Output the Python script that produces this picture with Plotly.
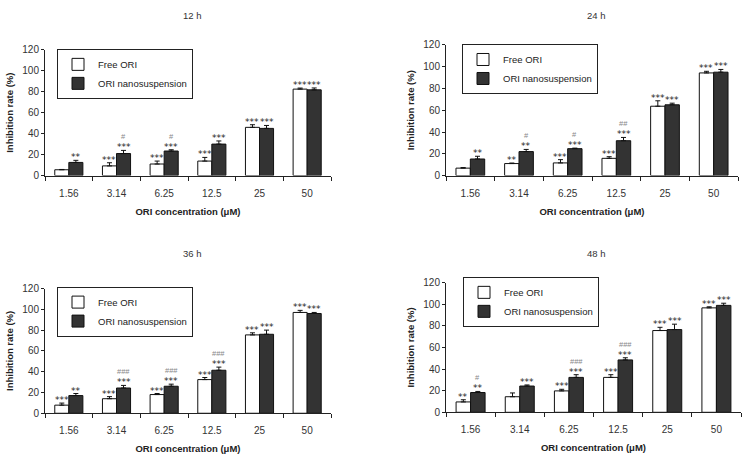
import plotly.graph_objects as go

categories = ["1.56", "3.14", "6.25", "12.5", "25", "50"]
panel_titles = ["12 h", "24 h", "36 h", "48 h"]
series_names = ["Free ORI", "ORI nanosuspension"]

free_12 = [5.5, 9.2, 11.0, 13.8, 46.0, 82.5]
free_12_err = [0.3, 3.0, 2.8, 3.5, 2.5, 1.0]
nano_12 = [12.5, 21.0, 23.4, 30.0, 45.0, 81.8]
nano_12_err = [2.0, 3.0, 1.2, 3.0, 2.8, 1.8]
free_12_sig = ["", "***", "***", "***", "***", "***"]
nano_12_sig = ["**", "***", "***", "***", "***", "***"]
nano_12_hash = ["", "#", "#", "", "", ""]

free_24 = [6.8, 11.0, 11.6, 15.8, 63.7, 94.3]
free_24_err = [0.5, 0.5, 3.0, 1.5, 5.0, 1.5]
nano_24 = [15.2, 22.0, 24.7, 32.0, 65.0, 95.0]
nano_24_err = [2.5, 2.0, 0.5, 3.0, 1.5, 2.5]
free_24_sig = ["", "**", "***", "***", "***", "***"]
nano_24_sig = ["**", "**", "***", "***", "***", "***"]
nano_24_hash = ["", "#", "#", "##", "", ""]

free_36 = [7.8, 14.0, 18.0, 32.4, 75.4, 97.0]
free_36_err = [2.0, 2.0, 1.0, 2.0, 2.0, 2.0]
nano_36 = [17.0, 24.3, 26.0, 41.4, 76.0, 96.0]
nano_36_err = [2.0, 2.5, 2.0, 3.0, 4.0, 1.0]
free_36_sig = ["***", "***", "***", "***", "***", "***"]
nano_36_sig = ["**", "***", "***", "***", "***", "***"]
nano_36_hash = ["", "###", "###", "###", "", ""]

free_48 = [9.6, 14.4, 19.8, 32.3, 75.7, 96.7]
free_48_err = [2.0, 3.5, 1.5, 2.5, 3.0, 1.0]
nano_48 = [18.3, 24.3, 32.3, 48.5, 76.6, 99.0]
nano_48_err = [1.0, 1.0, 2.5, 2.0, 5.0, 2.0]
free_48_sig = ["**", "", "***", "***", "***", "***"]
nano_48_sig = ["**", "***", "***", "***", "***", "***"]
nano_48_hash = ["#", "", "###", "###", "", ""]

y_ticks = [0, 20, 40, 60, 80, 100, 120]

panels = [
    (free_12, free_12_err, nano_12, nano_12_err, free_12_sig, nano_12_sig, nano_12_hash),
    (free_24, free_24_err, nano_24, nano_24_err, free_24_sig, nano_24_sig, nano_24_hash),
    (free_36, free_36_err, nano_36, nano_36_err, free_36_sig, nano_36_sig, nano_36_hash),
    (free_48, free_48_err, nano_48, nano_48_err, free_48_sig, nano_48_sig, nano_48_hash),
]

W, H = 750, 467
# plot-area pixel boxes: (left, right, top(120), bottom(0))
boxes = [(45, 331, 45, 174), (446, 738, 40, 174), (45, 331, 290, 418), (446, 741, 284, 417)]
legend_pos = [(57, 44), (462, 39), (57, 288), (463, 278)]
title_pos = [(192, 10), (596, 10), (192, 254), (596, 254)]

FONT = "Liberation Sans, Arial, sans-serif"
fig = go.Figure()
layout = {}
annotations = []
half = 0.295 / 2

for i, (fv, fe, nv, ne, fs, ns, nh) in enumerate(panels):
    k = "" if i == 0 else str(i + 1)
    xa, ya = "x" + k, "y" + k
    leg = "legend" + k
    fig.add_trace(go.Bar(
        x=categories, y=fv, name=series_names[0], xaxis=xa, yaxis=ya, legend=leg,
        marker=dict(color="white", line=dict(color="#111", width=1)),
        error_y=dict(type="data", array=fe, arrayminus=[0] * len(fe), symmetric=False,
                     color="#111", thickness=1, width=2.5),
    ))
    fig.add_trace(go.Bar(
        x=categories, y=nv, name=series_names[1], xaxis=xa, yaxis=ya, legend=leg,
        marker=dict(color="#333333", line=dict(color="#111", width=1)),
        error_y=dict(type="data", array=ne, arrayminus=[0] * len(ne), symmetric=False,
                     color="#111", thickness=1, width=2.5),
    ))
    l, r, t, b = boxes[i]
    layout["xaxis" + k] = dict(
        domain=[l / W, r / W], anchor=ya, type="category", range=[-0.5, 5.5],
        showline=True, linecolor="#222", linewidth=1, ticks="outside", ticklen=4,
        tickcolor="#222", tickson="boundaries", ticklabelstandoff=8,
        tickfont=dict(family=FONT, size=10, color="#333"),
        title=dict(text="<b>ORI concentration (μM)</b>", standoff=10,
                   font=dict(family=FONT, size=9.5, color="#222")),
        showgrid=False, zeroline=False, fixedrange=True,
    )
    layout["yaxis" + k] = dict(
        domain=[1 - b / H, 1 - t / H], anchor=xa, range=[0, 120], tickvals=y_ticks,
        showline=True, linecolor="#222", linewidth=1, ticks="outside", ticklen=3,
        tickcolor="#222", tickfont=dict(family=FONT, size=10, color="#333"),
        title=dict(text="<b>Inhibition rate (%)</b>", standoff=6,
                   font=dict(family=FONT, size=9.5, color="#222")),
        showgrid=False, zeroline=False, fixedrange=True,
    )
    lx, ly = legend_pos[i]
    layout[leg] = dict(
        x=lx / W, y=1 - ly / H, xanchor="left", yanchor="top",
        bordercolor="#222", borderwidth=1, bgcolor="white",
        font=dict(family=FONT, size=9.5, color="#222"),
        itemwidth=30, tracegroupgap=0,
    )
    tx, ty = title_pos[i]
    annotations.append(dict(
        text=panel_titles[i], xref="paper", yref="paper", x=tx / W, y=1 - ty / H,
        showarrow=False, xanchor="center", yanchor="middle",
        font=dict(family=FONT, size=9.5, color="#333"),
    ))
    for j in range(len(categories)):
        if fs[j]:
            annotations.append(dict(
                text=fs[j], xref=xa, yref=ya, x=j - half, y=fv[j] + fe[j],
                showarrow=False, yanchor="bottom", yshift=-4,
                font=dict(family="DejaVu Sans", size=9, color="#222"),
            ))
        if ns[j]:
            annotations.append(dict(
                text=ns[j], xref=xa, yref=ya, x=j + half, y=nv[j] + ne[j],
                showarrow=False, yanchor="bottom", yshift=-4,
                font=dict(family="DejaVu Sans", size=9, color="#222"),
            ))
        if nh[j]:
            annotations.append(dict(
                text=nh[j], xref=xa, yref=ya, x=j + half, y=nv[j] + ne[j],
                showarrow=False, yanchor="bottom", yshift=7,
                font=dict(family=FONT, size=7.5, color="#888"),
            ))

fig.update_layout(
    width=W, height=H, margin=dict(l=0, r=0, t=0, b=0),
    paper_bgcolor="white", plot_bgcolor="white",
    barmode="group", bargap=0.41, bargroupgap=0,
    annotations=annotations, **layout,
)
fig.write_html(
    "out.html",
    config={"displayModeBar": False},
    post_script="document.body.style.margin='0px';document.body.style.overflow='hidden';",
)
